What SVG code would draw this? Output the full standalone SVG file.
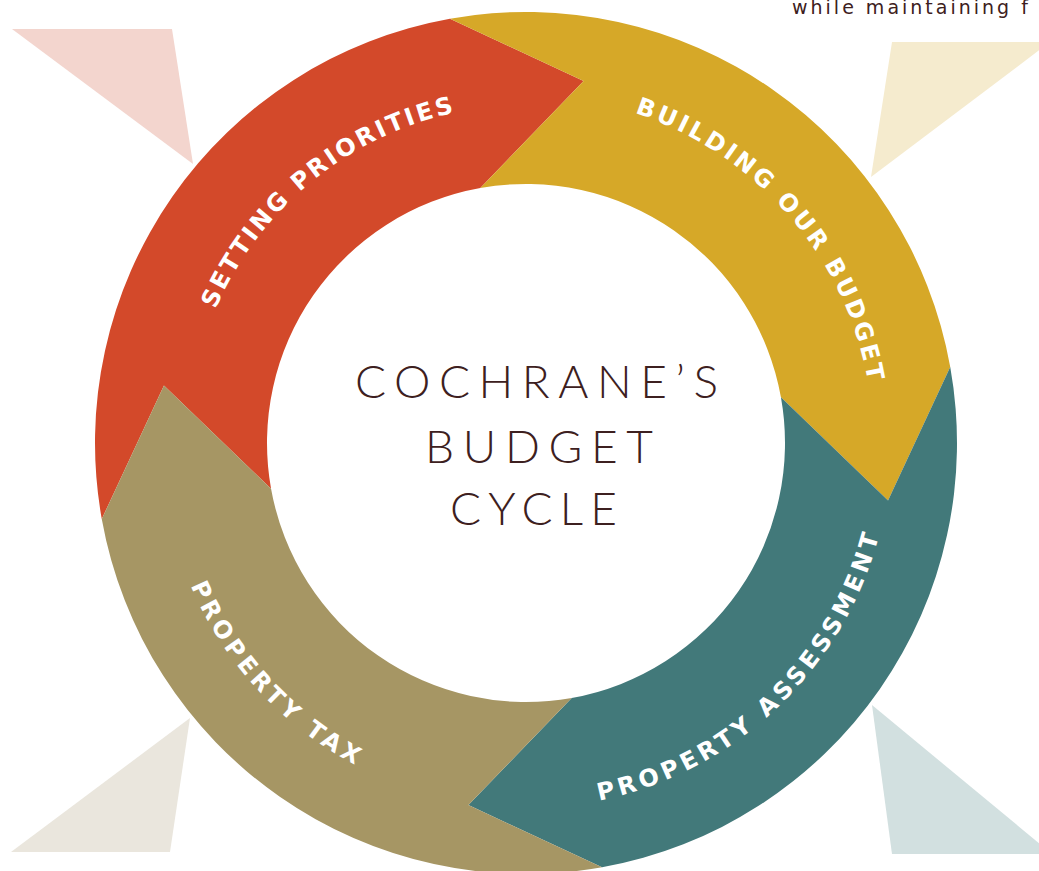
<svg xmlns="http://www.w3.org/2000/svg" width="1039" height="871" viewBox="0 0 1039 871">
  <style>
    .label { font-family: "DejaVu Sans", "Noto Sans", sans-serif; font-weight: 700; font-size: 24px; fill: #ffffff; }
    .title { font-family: Lato, "Open Sans", "Liberation Sans", sans-serif; font-weight: 300; font-size: 46px; fill: #3d2020; }
    .note { font-family: "DejaVu Sans", "Liberation Sans", sans-serif; font-weight: 400; font-size: 19px; fill: #3d2020; }
  </style>
  <defs>
    <path id="arc-setting" d="M 188.01 440.05 A 338 338 0 0 1 587.60 110.66" fill="none"/>
    <path id="arc-building" d="M 519.94 95.55 A 347.5 347.5 0 0 1 869.22 497.36" fill="none"/>
    <path id="arc-assessment" d="M 484.05 805.58 A 365 365 0 0 0 890.36 421.35" fill="none"/>
    <path id="arc-tax" d="M 164.62 395.42 A 364.5 364.5 0 0 0 541.90 807.15" fill="none"/>
  </defs>
  <rect width="1039" height="871" fill="#ffffff"/>

  <g id="decorations">
    <polygon points="12,29 172,29 193,164" fill="#f3d5ce"/>
    <polygon points="892,42 1050,42 871,177" fill="#f5ebce"/>
    <polygon points="190,718 170,852 11,852" fill="#eae6dd"/>
    <polygon points="872,705 892,854 1052,854" fill="#d2e0e0"/>
  </g>

  <text class="note" x="792" y="14" letter-spacing="3">while maintaining f</text>

  <g id="seg-setting">
    <path d="M 101.76 519.04 A 431 431 0 0 1 449.96 18.76 L 583.60 80.95 L 480.30 188.06 A 259 259 0 0 0 271.06 488.70 L 163.95 385.40 Z" fill="#d3492a"/>
    <text class="label"><textPath href="#arc-setting" startOffset="50%" text-anchor="middle" textLength="321" lengthAdjust="spacing">SETTING PRIORITIES</textPath></text>
  </g>

  <g id="seg-building">
    <path d="M 449.96 18.76 A 431 431 0 0 1 950.24 366.96 L 888.05 500.60 L 780.94 397.30 A 259 259 0 0 0 480.30 188.06 L 583.60 80.95 Z" fill="#d6a828"/>
    <text class="label"><textPath href="#arc-building" startOffset="50%" text-anchor="middle" textLength="373" lengthAdjust="spacing">BUILDING OUR BUDGET</textPath></text>
  </g>

  <g id="seg-assessment">
    <path d="M 950.24 366.96 A 431 431 0 0 1 602.04 867.24 L 468.40 805.05 L 571.70 697.94 A 259 259 0 0 0 780.94 397.30 L 888.05 500.60 Z" fill="#42797a"/>
    <text class="label"><textPath href="#arc-assessment" startOffset="50%" text-anchor="middle" textLength="406" lengthAdjust="spacing">PROPERTY ASSESSMENT</textPath></text>
  </g>

  <g id="seg-tax">
    <path d="M 602.04 867.24 A 431 431 0 0 1 101.76 519.04 L 163.95 385.40 L 271.06 488.70 A 259 259 0 0 0 571.70 697.94 L 468.40 805.05 Z" fill="#a69664"/>
    <text class="label"><textPath href="#arc-tax" startOffset="50%" text-anchor="middle" textLength="248" lengthAdjust="spacing">PROPERTY TAX</textPath></text>
  </g>

  <g id="center-title">
    <text class="title" x="355" y="398" textLength="363" lengthAdjust="spacing">COCHRANE’S</text>
    <text class="title" x="425" y="463" textLength="228" lengthAdjust="spacing">BUDGET</text>
    <text class="title" x="450" y="525" textLength="167" lengthAdjust="spacing">CYCLE</text>
  </g>
</svg>
